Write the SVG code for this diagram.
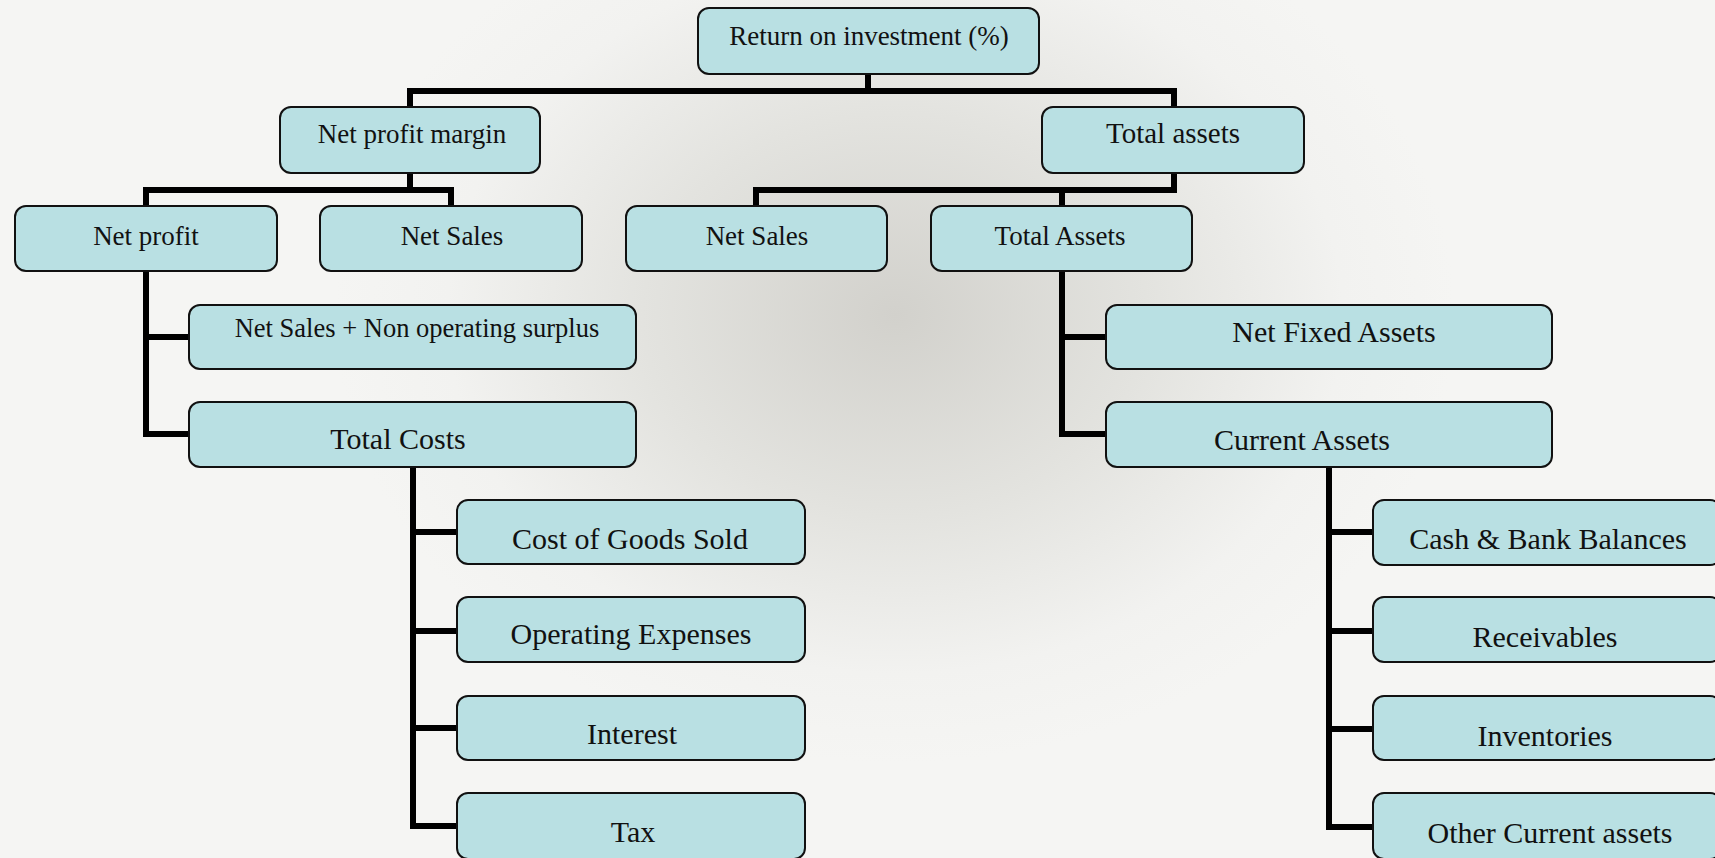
<svg xmlns="http://www.w3.org/2000/svg" width="1715" height="858" viewBox="0 0 1715 858">
  <defs>
    <radialGradient id="bg" gradientUnits="userSpaceOnUse" cx="895" cy="315" r="560" gradientTransform="translate(895 315) scale(1 0.8) translate(-895 -315)">
      <stop offset="0" stop-color="#d2d1cc"/>
      <stop offset="0.45" stop-color="#e3e3df"/>
      <stop offset="0.8" stop-color="#f2f2f0"/>
      <stop offset="1" stop-color="#f5f5f3"/>
    </radialGradient>
    <style>
      .box { fill: #b9e0e3; stroke: #111; stroke-width: 2; }
      .lbl { font-family: "Liberation Serif", "Times New Roman", serif; fill: #111; text-anchor: middle; }
      .s27 { font-size: 27px; }
      .s29 { font-size: 29px; }
      .s30 { font-size: 30px; }
      .s26 { font-size: 26.5px; }
      .conn { fill: none; stroke: #000; stroke-width: 6; stroke-linejoin: miter; stroke-linecap: butt; }
    </style>
  </defs>
  <rect x="0" y="0" width="1715" height="858" fill="url(#bg)"/>

  <g id="connectors">
    <path class="conn" d="M868,74 V91 M410,107 V91 H1174 V107"/>
    <path class="conn" d="M410,173 V190 M146,206 V190 H451 V206"/>
    <path class="conn" d="M1174,173 V190 H756 V206 M1062,190 V206"/>
    <path class="conn" d="M146,271 V434 H189 M146,337 H189"/>
    <path class="conn" d="M1062,271 V434 H1106 M1062,337 H1106"/>
    <path class="conn" d="M413,467 V826 H457 M413,532 H457 M413,631 H457 M413,728 H457"/>
    <path class="conn" d="M1329,467 V827 H1373 M1329,532 H1373 M1329,631 H1373 M1329,729 H1373"/>
  </g>

  <g id="n-roi">
    <rect class="box" x="698" y="8" width="341" height="66" rx="11"/>
    <text class="lbl s27" x="869" y="45">Return on investment (%)</text>
  </g>
  <g id="n-npm">
    <rect class="box" x="280" y="107" width="260" height="66" rx="11"/>
    <text class="lbl s27" x="412" y="143">Net profit margin</text>
  </g>
  <g id="n-ta-top">
    <rect class="box" x="1042" y="107" width="262" height="66" rx="11"/>
    <text class="lbl s29" x="1173" y="143">Total assets</text>
  </g>
  <g id="n-netprofit">
    <rect class="box" x="15" y="206" width="262" height="65" rx="11"/>
    <text class="lbl s27" x="146" y="245">Net profit</text>
  </g>
  <g id="n-netsales-l">
    <rect class="box" x="320" y="206" width="262" height="65" rx="11"/>
    <text class="lbl s27" x="452" y="245">Net Sales</text>
  </g>
  <g id="n-netsales-r">
    <rect class="box" x="626" y="206" width="261" height="65" rx="11"/>
    <text class="lbl s27" x="757" y="245">Net Sales</text>
  </g>
  <g id="n-totalassets">
    <rect class="box" x="931" y="206" width="261" height="65" rx="11"/>
    <text class="lbl s27" x="1060" y="245">Total Assets</text>
  </g>
  <g id="n-nsnos">
    <rect class="box" x="189" y="305" width="447" height="64" rx="11"/>
    <text class="lbl s26" x="417" y="337">Net Sales + Non operating surplus</text>
  </g>
  <g id="n-totalcosts">
    <rect class="box" x="189" y="402" width="447" height="65" rx="11"/>
    <text class="lbl s30" x="398" y="449">Total Costs</text>
  </g>
  <g id="n-nfa">
    <rect class="box" x="1106" y="305" width="446" height="64" rx="11"/>
    <text class="lbl s30" x="1334" y="342">Net Fixed Assets</text>
  </g>
  <g id="n-currentassets">
    <rect class="box" x="1106" y="402" width="446" height="65" rx="11"/>
    <text class="lbl s30" x="1302" y="450">Current Assets</text>
  </g>
  <g id="n-cogs">
    <rect class="box" x="457" y="500" width="348" height="64" rx="11"/>
    <text class="lbl s30" x="630" y="549">Cost of Goods Sold</text>
  </g>
  <g id="n-opex">
    <rect class="box" x="457" y="597" width="348" height="65" rx="11"/>
    <text class="lbl s30" x="631" y="644">Operating Expenses</text>
  </g>
  <g id="n-interest">
    <rect class="box" x="457" y="696" width="348" height="64" rx="11"/>
    <text class="lbl s30" x="632" y="744">Interest</text>
  </g>
  <g id="n-tax">
    <rect class="box" x="457" y="793" width="348" height="66" rx="11"/>
    <text class="lbl s30" x="633" y="842">Tax</text>
  </g>
  <g id="n-cash">
    <rect class="box" x="1373" y="500" width="348" height="65" rx="11"/>
    <text class="lbl s30" x="1548" y="549">Cash &amp; Bank Balances</text>
  </g>
  <g id="n-receivables">
    <rect class="box" x="1373" y="597" width="348" height="65" rx="11"/>
    <text class="lbl s30" x="1545" y="647">Receivables</text>
  </g>
  <g id="n-inventories">
    <rect class="box" x="1373" y="696" width="348" height="64" rx="11"/>
    <text class="lbl s30" x="1545" y="746">Inventories</text>
  </g>
  <g id="n-othercurrent">
    <rect class="box" x="1373" y="793" width="348" height="66" rx="11"/>
    <text class="lbl s30" x="1550" y="843">Other Current assets</text>
  </g>
</svg>
